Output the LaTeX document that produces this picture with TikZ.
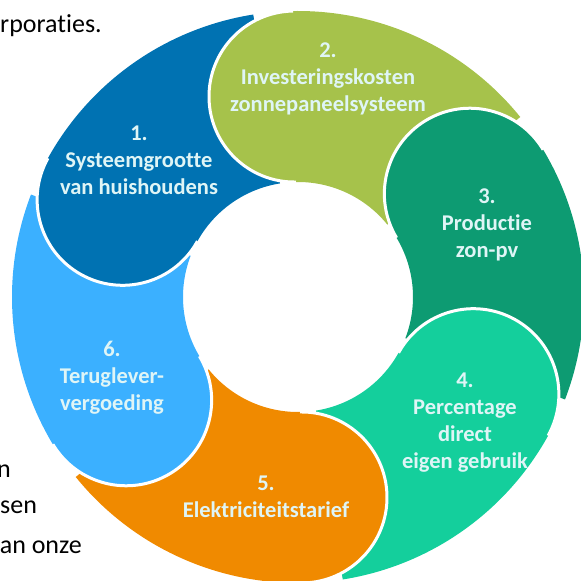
\documentclass[tikz,border=0pt]{standalone}
\usepackage{fontspec}
\setmainfont{Carlito}[Ligatures=NoCommon]
\usepackage{tikz}

\definecolor{segone}{HTML}{0072B2}
\definecolor{segtwo}{HTML}{A6C24B}
\definecolor{segthree}{HTML}{0D9B72}
\definecolor{segfour}{HTML}{14CF9C}
\definecolor{segfive}{HTML}{F08A00}
\definecolor{segsix}{HTML}{3BB0FF}
\definecolor{textpale}{HTML}{DFF5F6}

\begin{document}
\begin{tikzpicture}[x=1pt, y=1pt,
    segtext/.style={text=textpale, font=\bfseries\fontsize{22.5}{27}\selectfont, align=center},
    bodytext/.style={font=\fontsize{26}{30}\selectfont, inner sep=0pt}]
    \useasboundingbox (-298,-284) rectangle (283,297);
    \clip (-298,-284) rectangle (283,297);

    % page text behind the figure
    \node[bodytext, anchor=base west] (txtTop) at (-298,264) {rporaties.};
    \node[bodytext, anchor=base east] (txtN) at (-287,-180) {n};
    \node[bodytext, anchor=base west] (txtSen) at (-298,-216) {sen};
    \node[bodytext, anchor=base east] (txtOnze) at (-216,-256) {an onze};

    % the six segments, head at \h, tail under the next head
    \foreach \h/\c in {151/segone, 91/segtwo, 31/segthree, -29/segfour, -89/segfive, -149/segsix} {
        \pgfmathsetmacro\t{\h-52}
        \pgfmathsetmacro\e{\h+180}
        \fill[\c] (\t:115pt) -- (\t:286pt) arc[start angle=\t, end angle=\h, radius=286pt]
            arc[start angle=\h, end angle=\e, radius=85.5pt]
            arc[start angle=\h, end angle=\t, radius=115pt] -- cycle;
        \draw[white, line width=3pt] (\h:286pt) arc[start angle=\h, end angle=\e, radius=85.5pt];
    }
    % head of the first one lies on top of the last tail
    \fill[segone] (151:286pt) arc[start angle=151, end angle=331, radius=85.5pt] -- cycle;
    \draw[white, line width=3pt] (151:286pt) arc[start angle=151, end angle=331, radius=85.5pt];

    \node[segtext] (sys) at (-159,137) {1.\\Systeemgrootte\\van huishoudens};
    \node[segtext] (inv) at (30,218) {2.\\Investeringskosten\\zonnepaneelsysteem};
    \node[segtext] (prod) at (189,72) {3.\\Productie\\zon-pv};
    \node[segtext] (perc) at (167,-126) {4.\\Percentage\\direct\\eigen gebruik};
    \node[segtext] (tarief) at (-32,-200) {5.\\Elektriciteitstarief};
    \node[segtext] (terug) at (-186,-81) {6.\\Teruglever-\\vergoeding};
\end{tikzpicture}
\end{document}
